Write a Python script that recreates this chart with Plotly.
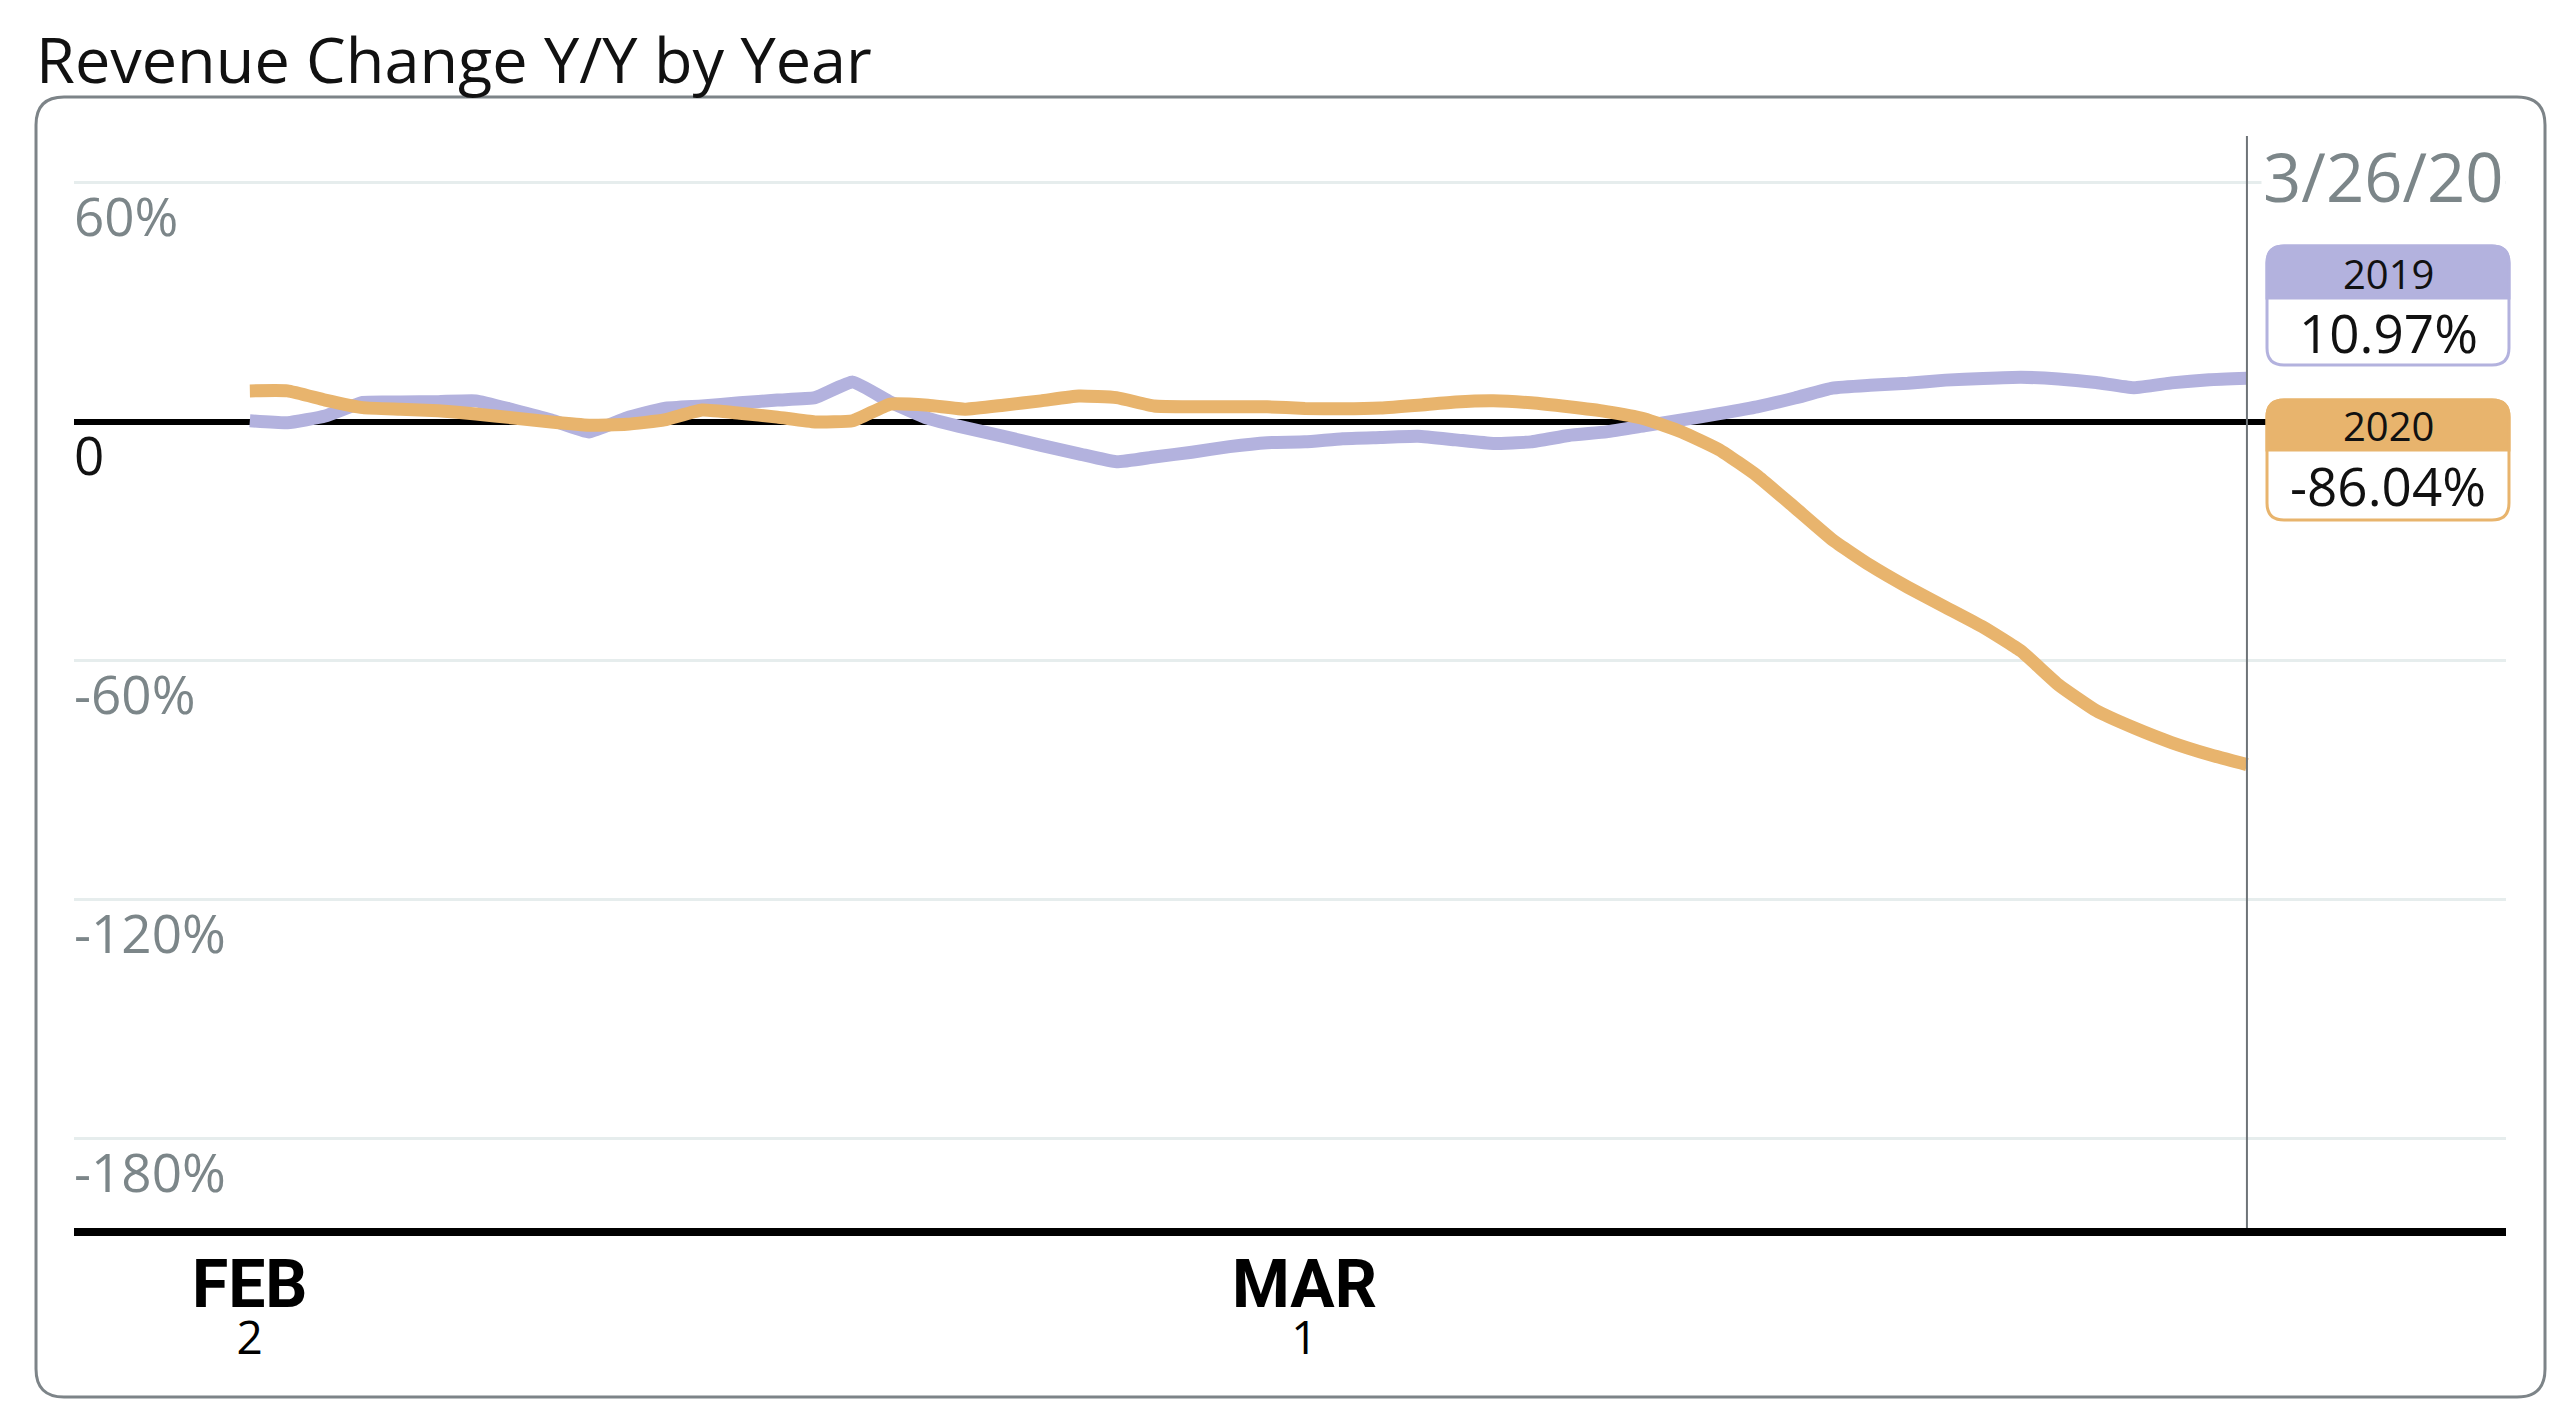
import pandas as pd
import plotly.graph_objects as go

# daily Y/Y revenue change, Feb 2 -> Mar 26
dates = pd.date_range("2020-02-02", "2020-03-26", freq="D")
rev_2019 = [0.3, -0.2, 1.5, 4.9, 5.0, 5.1, 5.3, 3.0, 0.5, -2.5, 1.0, 3.4, 4.0, 4.8,
            5.5, 6.1, 10.0, 5.0, 0.9, -1.5, -3.6, -5.9, -8.0, -10.0, -8.8, -7.6, -6.2, -5.2,
            -5.0, -4.2, -3.9, -3.6, -4.5, -5.4, -5.0, -3.4, -2.5, -1.0, 0.5, 2.1, 3.8, 6.0,
            8.5, 9.2, 9.7, 10.5, 10.9, 11.2, 10.8, 9.9, 8.6, 9.8, 10.6, 10.97]
rev_2020 = [7.8, 7.8, 5.5, 3.6, 3.2, 2.8, 2.0, 1.0, 0.0, -0.8, -0.6, 0.5, 3.0, 2.2,
            1.2, 0.0, 0.3, 4.5, 4.2, 3.2, 4.2, 5.3, 6.5, 6.1, 4.0, 3.8, 3.8, 3.8,
            3.4, 3.3, 3.5, 4.2, 5.0, 5.3, 4.8, 3.8, 2.6, 0.8, -2.5, -7.0, -13.5, -21.5,
            -29.6, -36.0, -41.5, -46.5, -51.5, -57.5, -66.0, -72.5, -76.8, -80.5, -83.5, -86.04]

grid_vals = [60, -60, -120, -180]
ytick_vals = [60, 0, -60, -120, -180]
ytick_text = ["60%", "0", "-60%", "-120%", "-180%"]
xtick_dates = ["2020-02-02", "2020-03-01"]
xtick_month = ["FEB", "MAR"]
xtick_day = ["2", "1"]
hover_date = "2020-03-26"
hover_label = "3/26/20"
series = ["2019", "2020"]
last_text = ["10.97%", "-86.04%"]

PURPLE = "#b3b2de"
ORANGE = "#e8b46d"
GRAY = "#7c8689"
FONT = "Open Sans"

W, H = 2560, 1427
L, R, T, B = 66, 62, 128, 207
PW, PH = W - L - R, H - T - B


def px(x):
    return (x - L) / PW


def py(y):
    return (H - B - y) / PH


def rrect(x0, y0, x1, y1, r, round_bottom=True):
    pts = [("M", (x0 + r, y0)), ("L", (x1 - r, y0)), ("Q", (x1, y0), (x1, y0 + r))]
    if round_bottom:
        pts += [("L", (x1, y1 - r)), ("Q", (x1, y1), (x1 - r, y1)),
                ("L", (x0 + r, y1)), ("Q", (x0, y1), (x0, y1 - r))]
    else:
        pts += [("L", (x1, y1)), ("L", (x0, y1))]
    pts += [("L", (x0, y0 + r)), ("Q", (x0, y0), (x0 + r, y0))]
    out = []
    for p in pts:
        out.append(p[0] + " ".join(f"{px(a):.5f},{py(b):.5f}" for a, b in p[1:]))
    return " ".join(out) + " Z"


fig = go.Figure()
fig.add_trace(go.Scatter(x=dates, y=rev_2019, mode="lines", name="2019",
                         line=dict(color=PURPLE, width=13, shape="spline", smoothing=0.4)))
fig.add_trace(go.Scatter(x=dates, y=rev_2020, mode="lines", name="2020",
                         line=dict(color=ORANGE, width=13, shape="spline", smoothing=0.4)))

shapes = []
# card outline
shapes.append(dict(type="path", xref="paper", yref="paper", path=rrect(28, 89, 2537, 1389, 28),
                   line=dict(color="#7d8488", width=3), fillcolor="rgba(0,0,0,0)"))
# hover line
shapes.append(dict(type="line", xref="x", yref="paper", x0=hover_date, x1=hover_date, y0=0, y1=1,
                   line=dict(color="#6e7478", width=2)))
# value boxes
box_y = [(238, 290, 357), (392, 442, 512)]
colors = [PURPLE, ORANGE]
annotations = []
for (y0, ym, y1), c, s, v in zip(box_y, colors, series, last_text):
    shapes.append(dict(type="path", xref="paper", yref="paper", path=rrect(2259, y0, 2501, y1, 17),
                       line=dict(color=c, width=3), fillcolor="white"))
    shapes.append(dict(type="path", xref="paper", yref="paper",
                       path=rrect(2259, y0, 2501, ym, 17, round_bottom=False),
                       line=dict(color=c, width=3), fillcolor=c))
    annotations.append(dict(xref="paper", yref="paper", x=px(2380), y=py((y0 + ym) / 2 + 1),
                            text=s, showarrow=False, font=dict(family=FONT, size=40, color="#111"),
                            xanchor="center", yanchor="middle"))
    annotations.append(dict(xref="paper", yref="paper", x=px(2380), y=py((ym + y1) / 2 + 1),
                            text=v, showarrow=False, font=dict(family=FONT, size=53, color="#111"),
                            xanchor="center", yanchor="middle"))

# title
annotations.append(dict(xref="paper", yref="paper", x=px(26), y=py(50), text="Revenue Change Y/Y by Year",
                        showarrow=False, xanchor="left", yanchor="middle",
                        font=dict(family=FONT, size=63, color="#111")))
# hover date
annotations.append(dict(xref="paper", yref="paper", x=px(2253), y=py(168), text=hover_label,
                        showarrow=False, xanchor="left", yanchor="middle", bgcolor="white",
                        font=dict(family=FONT, size=67, color=GRAY)))
# y labels under the gridlines
for v, t in zip(ytick_vals, ytick_text):
    annotations.append(dict(xref="paper", yref="y", x=px(64), y=v, yshift=-33, text=t,
                            showarrow=False, xanchor="left", yanchor="middle",
                            font=dict(family=FONT, size=53, color="#111" if v == 0 else GRAY)))
# x labels: bold month over day number
for d, m, dd in zip(xtick_dates, xtick_month, xtick_day):
    annotations.append(dict(xref="x", yref="paper", x=d, y=py(1298),
                            text=f"<span style='font-family:Roboto;font-size:66px'><b>{m}</b></span>"
                                 f"<br><span style='font-size:46px'>{dd}</span>",
                            showarrow=False, xanchor="center", yanchor="middle",
                            font=dict(family=FONT, size=36, color="#000")))

fig.update_layout(
    width=W, height=H,
    margin=dict(l=L, r=R, t=T, b=B),
    paper_bgcolor="white", plot_bgcolor="white",
    showlegend=False,
    shapes=shapes,
    annotations=annotations,
    xaxis=dict(range=["2020-01-28 08:00", "2020-04-01 21:00"], showgrid=False, zeroline=False,
               showticklabels=False, ticks="", showline=True, linecolor="#000", linewidth=8),
    yaxis=dict(range=[-202.4, 71.8], tickvals=grid_vals, showticklabels=False, ticks="",
               showgrid=True, gridcolor="#e6eded", gridwidth=3,
               zeroline=True, zerolinecolor="#000", zerolinewidth=6, showline=False),
)

fig.write_html("out.html")
